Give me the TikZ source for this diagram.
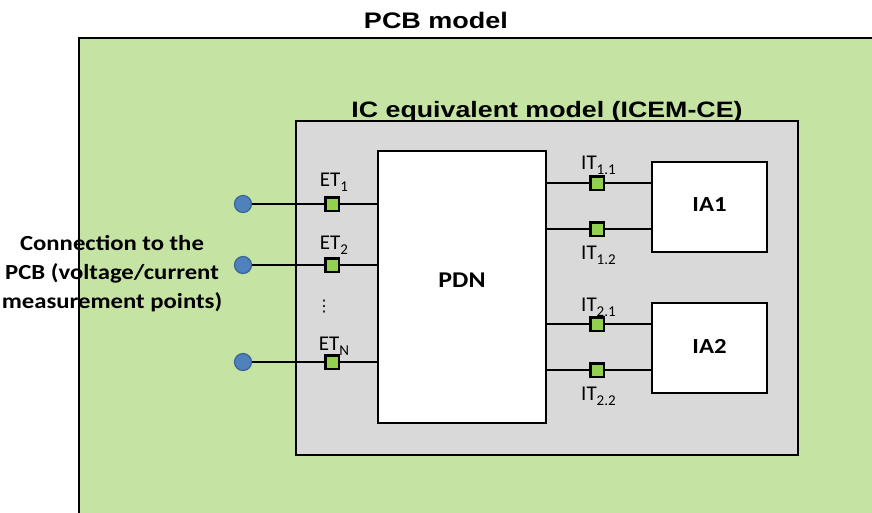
\documentclass[tikz,border=0pt]{standalone}
\usepackage{fontspec}
\setmainfont{Carlito}
\newfontfamily\arialf{Liberation Sans}
\newfontfamily\symf{DejaVu Sans}
\definecolor{pcbgreen}{HTML}{C5E3A2}
\definecolor{icgrey}{HTML}{D9D9D9}
\definecolor{termgreen}{HTML}{92D050}
\definecolor{ptblue}{HTML}{4F81BD}
\definecolor{ptborder}{HTML}{3A6396}
\newcommand\sbs[1]{\raisebox{-0.5ex}{\fontsize{15}{15}\selectfont #1}}
\newcommand\hstr[1]{\scalebox{1.15}[1]{#1}}
\newcommand\hstrA[1]{\scalebox{1.2}[1]{#1}}
\tikzset{
  wire/.style={line width=2.8pt},
  termsq/.style={draw, line width=2.5pt, fill=termgreen, minimum size=13.5pt, inner sep=0pt},
  meas/.style={circle, draw=ptborder, line width=1.2pt, fill=ptblue, minimum size=17pt, inner sep=0pt},
  blockbox/.style={draw, line width=2.8pt, fill=white},
  lbl/.style={inner sep=0pt, anchor=base, font=\fontsize{21}{21}\selectfont},
}
\begin{document}
\begin{tikzpicture}[x=1pt,y=-1pt]
\useasboundingbox (0,0) rectangle (872,512);
\begin{scope}
\clip (0,0) rectangle (872,512);
\draw[line width=2.5pt, fill=pcbgreen] (79,38) rectangle (890,530);
\end{scope}
\node[inner sep=0pt, anchor=base, font=\arialf\bfseries\fontsize{22.5}{22.5}\selectfont] (pcbtitle) at (436,28) {\hstrA{PCB model}};
\draw[line width=2.5pt, fill=icgrey] (296,121) rectangle (798,455);
\node[inner sep=0pt, anchor=base, font=\arialf\bfseries\fontsize{22.3}{22.3}\selectfont] (ictitle) at (547,117) {\hstrA{IC equivalent model (ICEM-CE)}};
% blocks
\node[blockbox, minimum width=168pt, minimum height=272pt, inner sep=0pt] (pdn) at (462,287) {};
\node[font=\bfseries\fontsize{22.5}{22.5}\selectfont, inner sep=0pt] (pdnlbl) at (462,280) {\hstr{PDN}};
\node[blockbox, minimum width=115pt, minimum height=90pt, inner sep=0pt] (ia1) at (709.5,207) {};
\node[font=\bfseries\fontsize{21.5}{21.5}\selectfont, inner sep=0pt] (ia1lbl) at (709.5,205) {\hstr{IA1}};
\node[blockbox, minimum width=115pt, minimum height=90pt, inner sep=0pt] (ia2) at (709.5,348) {};
\node[font=\bfseries\fontsize{21.5}{21.5}\selectfont, inner sep=0pt] (ia2lbl) at (709.5,346) {\hstr{IA2}};
% external terminals
\node[meas] (c1) at (243,204) {};
\node[meas] (c2) at (243,265) {};
\node[meas] (c3) at (243,362) {};
\node[termsq] (e1) at (332,204) {};
\node[termsq] (e2) at (332,265) {};
\node[termsq] (e3) at (332,362) {};
\draw[wire] (c1) -- (e1);
\draw[wire] (e1) -- (e1 -| pdn.west);
\draw[wire] (c2) -- (e2);
\draw[wire] (e2) -- (e2 -| pdn.west);
\draw[wire] (c3) -- (e3);
\draw[wire] (e3) -- (e3 -| pdn.west);
\node[lbl] (et1) at (334,186) {ET\sbs{1}};
\node[lbl] (et2) at (334,249) {ET\sbs{2}};
\node[lbl] (etn) at (334,350) {ET\sbs{N}};
\node[inner sep=0pt, font=\symf\fontsize{16}{16}\selectfont] (dots) at (324,307) {⋮};
% internal terminals
\node[termsq] (i11) at (597,183) {};
\node[termsq] (i12) at (597,229) {};
\node[termsq] (i21) at (597,324) {};
\node[termsq] (i22) at (597,370) {};
\draw[wire] (i11 -| pdn.east) -- (i11);
\draw[wire] (i11) -- (i11 -| ia1.west);
\draw[wire] (i12 -| pdn.east) -- (i12);
\draw[wire] (i12) -- (i12 -| ia1.west);
\draw[wire] (i21 -| pdn.east) -- (i21);
\draw[wire] (i21) -- (i21 -| ia2.west);
\draw[wire] (i22 -| pdn.east) -- (i22);
\draw[wire] (i22) -- (i22 -| ia2.west);
\node[lbl, anchor=base west] (it11) at (581,169) {IT\sbs{1.1}};
\node[lbl, anchor=base west] (it12) at (581,259) {IT\sbs{1.2}};
\node[lbl, anchor=base west] (it21) at (581,311) {IT\sbs{2.1}};
\node[lbl, anchor=base west] (it22) at (581,400) {IT\sbs{2.2}};
% left text
\node[inner sep=0pt, align=center, font=\bfseries\fontsize{21.5}{29}\selectfont, anchor=base] (conn) at (112,308) {\hstr{Connection to the}\\\hstr{PCB (voltage/current}\\\hstr{measurement points)}};
\end{tikzpicture}
\end{document}
